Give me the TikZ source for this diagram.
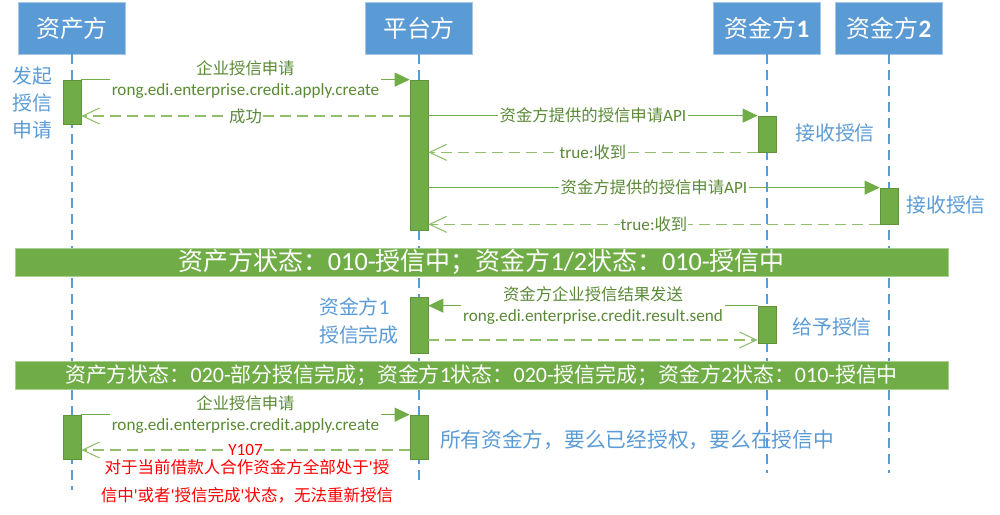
\documentclass[tikz,border=0pt]{standalone}
\usepackage{fontspec}
\setmainfont{Noto Sans CJK SC}
\newfontfamily\lat{Carlito}[Scale=1.05]
\usetikzlibrary{arrows.meta, positioning, calc}
\definecolor{headblue}{HTML}{5B9BD5}
\definecolor{noteblue}{HTML}{5B9BD5}
\definecolor{bargreen}{HTML}{70AD47}
\definecolor{dashgreen}{HTML}{8FBF6A}
\definecolor{txtgreen}{HTML}{5A8A36}
\definecolor{errred}{HTML}{FF0000}

\begin{document}
\begin{tikzpicture}[x=0.2mm, y=-0.2mm,
    head/.style={rectangle, draw=headblue!55, fill=headblue, text=white, minimum width=21.4mm, minimum height=10.4mm, font=\fontsize{13.6}{16}\selectfont},
    life/.style={draw=headblue, line width=0.8pt, dash pattern=on 2mm off 1.2mm},
    bar/.style={rectangle, draw=bargreen!85!black, fill=bargreen, minimum width=3.6mm, inner sep=0pt, line width=0.4pt},
    call/.style={draw=bargreen, line width=0.6pt, -{Triangle[length=3mm,width=2.8mm]}},
    reply/.style={draw=dashgreen, line width=0.6pt, dash pattern=on 2.2mm off 1.2mm, -{Straight Barb[length=3.4mm,width=3.2mm]}},
    msg/.style={fill=white, text=txtgreen, font=\fontsize{9.3}{11.9}\selectfont, inner sep=1pt, align=center},
    note/.style={text=noteblue, font=\fontsize{11.3}{15.2}\selectfont, align=center},
    banner/.style={rectangle, draw=bargreen!60, fill=bargreen, text=white, minimum width=186.6mm, minimum height=5.6mm, inner sep=0pt}
  ]
    \useasboundingbox (0,0) rectangle (1000,515);

    % Participants
    \node (a) [head] at (72,28) {资产方};
    \node (p) [head] at (419,28) {平台方};
    \node (f1) [head] at (767,28) {资金方{\lat\bfseries 1}};
    \node (f2) [head] at (889,28) {资金方{\lat\bfseries 2}};

    % Lifelines
    \coordinate (aend) at (72,490);
    \coordinate (pend) at (419,485);
    \coordinate (f1end) at (767,473);
    \coordinate (f2end) at (889,473);
    \draw [life] (a.south) -- (aend);
    \draw [life] (p.south) -- (pend);
    \draw [life] (f1.south) -- (f1end);
    \draw [life] (f2.south) -- (f2end);

    % State banners
    \node (s1) [banner, font=\fontsize{14.2}{16}\selectfont] at (481.5,262) {资产方状态：{\lat 010-}授信中；资金方{\lat 1/2}状态：{\lat 010-}授信中};
    \node (s2) [banner, font=\fontsize{11.9}{14}\selectfont] at (481.5,375) {资产方状态：{\lat 020-}部分授信完成；资金方{\lat 1}状态：{\lat 020-}授信完成；资金方{\lat 2}状态：{\lat 010-}授信中};

    % Activation bars
    \node (a1) [bar, minimum height=8.8mm] at (72,102) {};
    \node (p1) [bar, minimum height=30mm] at (419,155) {};
    \node (f11) [bar, minimum height=7.2mm] at (767,134) {};
    \node (f21) [bar, minimum height=7.2mm] at (889,206) {};
    \node (p2) [bar, minimum height=11.2mm] at (419,325) {};
    \node (f12) [bar, minimum height=7.4mm] at (767,324.5) {};
    \node (a3) [bar, minimum height=8.8mm] at (72,437) {};
    \node (p3) [bar, minimum height=8.8mm] at (419,437) {};

    % Messages: apply
    \draw [call] (a1.north east) -- (a1.north east -| p1.west)
        node [msg, midway] {企业授信申请\\{\lat rong.edi.enterprise.credit.apply.create}};
    \draw [reply] (p1.west |- 0,116) -- (a1.east |- 0,116)
        node [msg, midway, inner sep=0.5pt] {成功};
    \draw [call] (p1.east |- f11.north west) -- (f11.north west)
        node [msg, midway] {资金方提供的授信申请{\lat API}};
    \draw [reply] (f11.south west) -- (f11.south west -| p1.east)
        node [msg, midway, inner sep=0.5pt] {{\lat true:}收到};
    \draw [call] (p1.east |- f21.north west) -- (f21.north west)
        node [msg, midway] {资金方提供的授信申请{\lat API}};
    \draw [reply] (f21.south west) -- (f21.south west -| p1.east)
        node [msg, midway, inner sep=0.5pt] {{\lat true:}收到};

    % Messages: result
    \draw [call] (f12.north west) -- (f12.north west -| p2.east)
        node [msg, midway] {资金方企业授信结果发送\\{\lat rong.edi.enterprise.credit.result.send}};
    \draw [reply] (p2.east |- 0,340) -- (f12.west |- 0,340);

    % Messages: re-apply
    \draw [call] (a3.north east) -- (a3.north east -| p3.west)
        node [msg, midway] {企业授信申请\\{\lat rong.edi.enterprise.credit.apply.create}};
    \draw [reply] (p3.west |- 0,450) -- (a3.east |- 0,450)
        node (y107) [msg, midway, text=errred, inner sep=0.5pt] {{\lat Y107}};

    % Notes
    \node (n1) [note, font=\fontsize{11.3}{15.3}\selectfont] at (32,103) {发起\\授信\\申请};
    \node (n2) [note] at (835,133) {接收授信};
    \node (n3) [note] at (946,205) {接收授信};
    \node (n4) [note, align=left, anchor=west, font=\fontsize{11.3}{16.4}\selectfont] at (313,321) {资金方{\lat 1}\\授信完成};
    \node (n5) [note] at (832,327) {给予授信};
    \node (n6) [note, font=\fontsize{11.8}{15}\selectfont] at (637,440) {所有资金方，要么已经授权，要么在授信中};
    \node (err) [text=errred, align=center, font=\fontsize{9.4}{15.9}\selectfont] at (247,481)
        {对于当前借款人合作资金方全部处于{\lat '}授\\信中{\lat '}或者{\lat '}授信完成{\lat '}状态，无法重新授信};
\end{tikzpicture}
\end{document}
